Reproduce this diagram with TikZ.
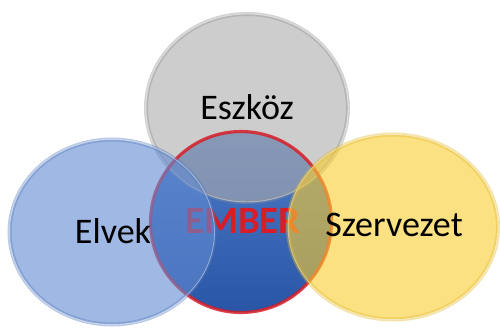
\documentclass[tikz,border=0pt]{standalone}
\usepackage{fontspec}
\setmainfont{Carlito}
\usetikzlibrary{shapes.geometric}
\definecolor{szurke}{RGB}{172,172,172}
\definecolor{kek}{RGB}{97,138,210}
\definecolor{sarga}{RGB}{250,205,47}
\definecolor{piros}{RGB}{215,30,40}
\definecolor{melykekfent}{RGB}{80,125,200}
\definecolor{melykeklent}{RGB}{40,85,165}
\begin{document}
\begin{tikzpicture}[x=0.02cm,y=-0.02cm,
  kor/.style={ellipse, inner sep=0pt, fill opacity=0.6, draw opacity=0.4, line width=0.9pt, double distance=0.5pt},
  felirat/.style={font=\fontsize{20.5}{24}\selectfont, inner sep=0pt, anchor=base}]
\useasboundingbox (0,0) rectangle (500,328);
% kozepso kor
\node[ellipse, inner sep=0pt, minimum width=3.62cm, minimum height=3.62cm, top color=melykekfent, bottom color=melykeklent] (ember) at (241,222) {};
\node[kor, minimum width=4.04cm, minimum height=3.76cm, fill=szurke, draw=szurke!85!black, double=white] (eszkoz) at (247,108) {};
\draw[piros, line width=1.8pt, draw opacity=0.85] (ember.center) ellipse [x radius=1.81cm, y radius=1.81cm];
\node[felirat, font=\fontsize{22}{26}\selectfont\bfseries, text=piros] (emberfelirat) at (243,233) {EMBER};
% kulso korok
\node[kor, minimum width=4.1cm, minimum height=3.7cm, fill=kek, draw=kek!90!black, double=white] (elvek) at (112,232) {};
\node[kor, minimum width=4.2cm, minimum height=3.7cm, fill=sarga, draw=sarga!90!black, double=white] (szervezet) at (393,227) {};
% feliratok
\node[felirat] (eszkozfelirat) at (247,119) {Eszköz};
\node[felirat] (elvekfelirat) at (113,243) {Elvek};
\node[felirat] (szervezetfelirat) at (394,236) {Szervezet};
\end{tikzpicture}
\end{document}
